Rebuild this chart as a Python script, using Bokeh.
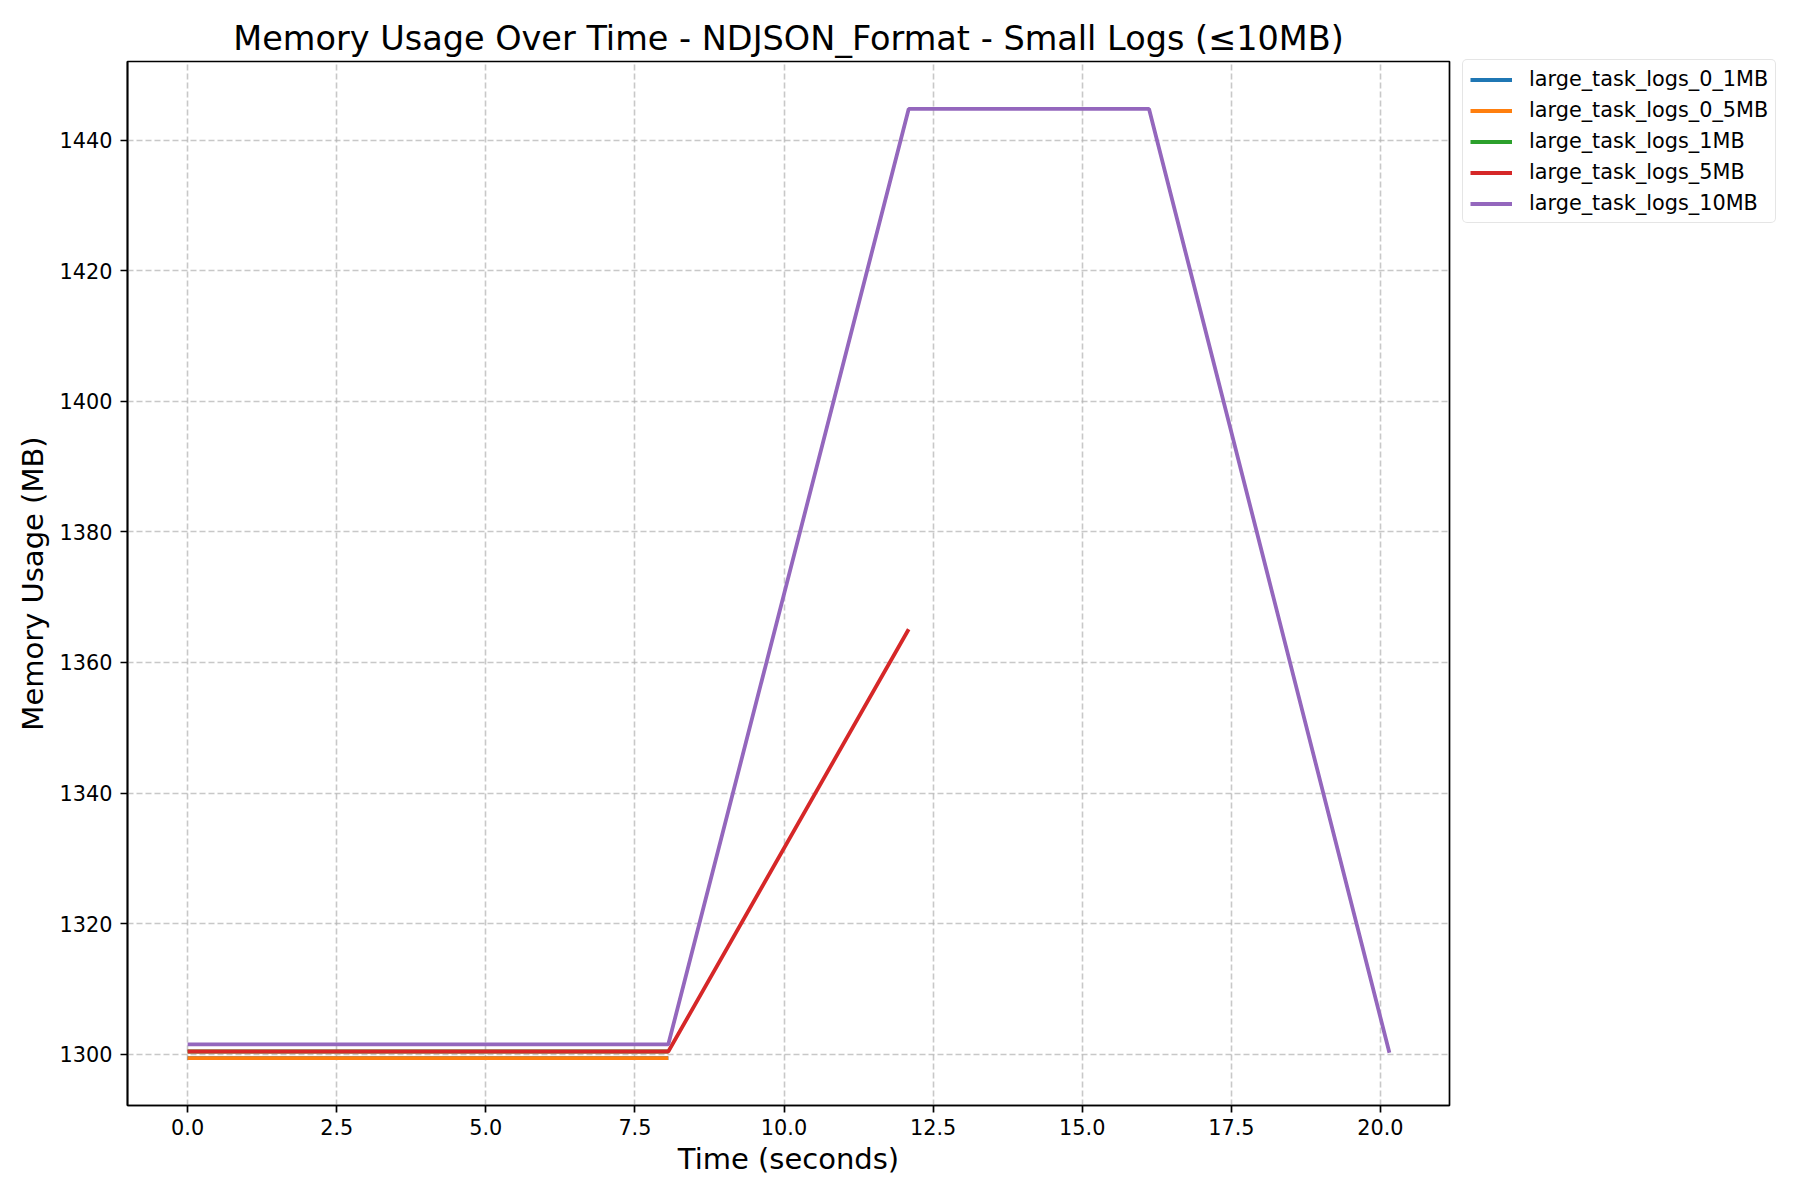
from bokeh.plotting import figure
from bokeh.models import Range1d, FixedTicker, PrintfTickFormatter, Legend, LegendItem
from bokeh.embed import file_html
from bokeh.resources import INLINE

# ---- data ----
series_names = ["large_task_logs_0_1MB", "large_task_logs_0_5MB", "large_task_logs_1MB",
                "large_task_logs_5MB", "large_task_logs_10MB"]
series_colors = ["#1f77b4", "#ff7f0e", "#2ca02c", "#d62728", "#9467bd"]

time_0_1MB = [0.0, 4.03, 8.06]
mem_0_1MB = [1299.4, 1299.4, 1299.4]

time_0_5MB = [0.0, 4.03, 8.06]
mem_0_5MB = [1299.4, 1299.4, 1299.4]

time_1MB = [0.0, 4.03, 8.06]
mem_1MB = [1300.4, 1300.4, 1300.4]

time_5MB = [0.0, 4.03, 8.06, 12.09]
mem_5MB = [1300.4, 1300.4, 1300.4, 1365.1]

time_10MB = [0.0, 4.03, 8.06, 12.09, 16.12, 20.15]
mem_10MB = [1301.5, 1301.5, 1301.5, 1444.8, 1444.8, 1300.2]

x_ticks = [0.0, 2.5, 5.0, 7.5, 10.0, 12.5, 15.0, 17.5, 20.0]
y_ticks = [1300, 1320, 1340, 1360, 1380, 1400, 1420, 1440]

all_t = [time_0_1MB, time_0_5MB, time_1MB, time_5MB, time_10MB]
all_m = [mem_0_1MB, mem_0_5MB, mem_1MB, mem_5MB, mem_10MB]

xmin = min(min(t) for t in all_t); xmax = max(max(t) for t in all_t)
ymin = min(min(m) for m in all_m); ymax = max(max(m) for m in all_m)
xpad = (xmax - xmin) * 0.05
ypad = (ymax - ymin) * 0.05

FONT = "DejaVu Sans"

p = figure(
    frame_width=1322, frame_height=1044,
    min_border_left=127, min_border_right=335, min_border_top=61, min_border_bottom=79,
    output_backend="svg", toolbar_location=None,
    x_range=Range1d(xmin - xpad, xmax + xpad),
    y_range=Range1d(ymin - ypad, ymax + ypad),
    title="Memory Usage Over Time - NDJSON_Format - Small Logs (≤10MB)",
)
p.background_fill_color = "white"
p.border_fill_color = "white"

p.title.text_font = FONT
p.title.text_font_size = "33.5px"
p.title.text_font_style = "normal"
p.title.align = "center"
p.title.text_color = "black"
p.title.standoff = 7

p.outline_line_color = "black"
p.outline_line_width = 1.7

for ax in (p.xaxis, p.yaxis):
    ax.axis_line_color = "black"
    ax.axis_line_width = 1.7
    ax.major_tick_line_color = "black"
    ax.major_tick_line_width = 1.7
    ax.major_tick_in = 0
    ax.major_tick_out = 7
    ax.minor_tick_line_color = None
    ax.major_label_text_font = FONT
    ax.major_label_text_font_size = "20.8px"
    ax.major_label_text_color = "black"
    ax.axis_label_text_font = FONT
    ax.axis_label_text_font_size = "29px"
    ax.axis_label_text_font_style = "normal"
    ax.axis_label_text_color = "black"

p.xaxis.major_label_standoff = 6
p.yaxis.major_label_standoff = 8
p.xaxis.ticker = FixedTicker(ticks=x_ticks)
p.xaxis.formatter = PrintfTickFormatter(format="%.1f")
p.yaxis.ticker = FixedTicker(ticks=y_ticks)
p.yaxis.formatter = PrintfTickFormatter(format="%d")
p.xaxis.axis_label = "Time (seconds)"
p.yaxis.axis_label = "Memory Usage (MB)"
p.xaxis.axis_label_standoff = 4
p.yaxis.axis_label_standoff = 7

for g in (p.xgrid, p.ygrid):
    g.grid_line_color = "#b0b0b0"
    g.grid_line_alpha = 0.7
    g.grid_line_width = 1.6
    g.grid_line_dash = "6 3"

items = []
for name, color, t, m in zip(series_names, series_colors, all_t, all_m):
    r = p.line(t, m, line_color=color, line_width=3.8)
    items.append(LegendItem(label=name, renderers=[r]))

legend = Legend(items=items, location=(13, 882))
legend.label_text_font = FONT
legend.label_text_font_size = "20.8px"
legend.label_text_color = "black"
legend.glyph_width = 42
legend.glyph_height = 21
legend.label_height = 21
legend.label_standoff = 17
legend.spacing = 7
legend.padding = 7
legend.margin = 0
legend.border_line_color = "#cccccc"
legend.border_line_width = 1.7
legend.border_radius = 5
legend.background_fill_color = "white"
legend.background_fill_alpha = 0.8
p.add_layout(legend, "right")

open("out.html", "w").write(file_html(p, INLINE))
